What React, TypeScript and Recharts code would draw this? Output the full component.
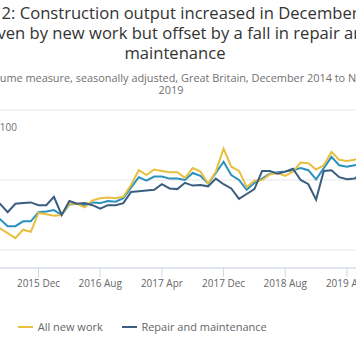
import React from 'react';
import { LineChart, Line, XAxis, YAxis, CartesianGrid } from 'recharts';

const months = [
  '2014 Dec',
  '2015 Jan', '2015 Feb', '2015 Mar', '2015 Apr', '2015 May', '2015 Jun', '2015 Jul', '2015 Aug', '2015 Sep', '2015 Oct', '2015 Nov', '2015 Dec',
  '2016 Jan', '2016 Feb', '2016 Mar', '2016 Apr', '2016 May', '2016 Jun', '2016 Jul', '2016 Aug', '2016 Sep', '2016 Oct', '2016 Nov', '2016 Dec',
  '2017 Jan', '2017 Feb', '2017 Mar', '2017 Apr', '2017 May', '2017 Jun', '2017 Jul', '2017 Aug', '2017 Sep', '2017 Oct', '2017 Nov', '2017 Dec',
  '2018 Jan', '2018 Feb', '2018 Mar', '2018 Apr', '2018 May', '2018 Jun', '2018 Jul', '2018 Aug', '2018 Sep', '2018 Oct', '2018 Nov', '2018 Dec',
  '2019 Jan', '2019 Feb', '2019 Mar', '2019 Apr', '2019 May', '2019 Jun', '2019 Jul', '2019 Aug', '2019 Sep', '2019 Oct', '2019 Nov', '2019 Dec',
];

const allWork = [
  103.6, 104.0, 104.3, 103.8, 104.6, 104.2, 104.8,
  104.4, 103.4, 103.4, 104.1, 104.1, 105.4, 105.5,
  105.7, 105.0, 106.5, 106.6, 106.4, 106.8, 106.7,
  107.0, 106.9, 107.4, 108.9, 110.4, 109.9, 110.5,
  110.5, 110.2, 110.2, 110.0, 111.0, 110.6, 109.5,
  111.0, 112.6, 110.7, 110.0, 108.6, 109.6, 110.2,
  110.9, 111.1, 111.2, 111.4, 111.7, 111.4, 110.1,
  111.7, 113.3, 112.1, 111.9, 112.1, 112.5, 111.8,
  112.2, 111.6, 112.0, 111.5, 112.1,
];

const allNewWork = [
  101.8, 102.5, 103.0, 102.2, 103.4, 102.8, 103.6,
  103.1, 102.4, 101.7, 102.9, 102.6, 105.3, 105.1,
  104.9, 105.0, 106.6, 106.6, 106.1, 107.1, 107.4,
  107.5, 107.4, 107.6, 109.3, 111.4, 110.7, 111.5,
  111.3, 111.1, 111.1, 110.3, 111.7, 111.2, 109.5,
  111.2, 114.5, 111.9, 111.3, 109.0, 109.9, 110.0,
  110.8, 111.0, 110.6, 111.2, 112.5, 112.4, 111.5,
  112.1, 114.0, 112.9, 112.7, 112.9, 113.5, 112.2,
  112.8, 111.9, 112.6, 111.8, 113.0,
];

const repairMaintenance = [
  105.8, 106.4, 105.9, 106.9, 106.2, 107.0, 106.5,
  106.6, 105.4, 106.6, 106.7, 106.8, 106.4, 106.4,
  107.6, 105.0, 107.0, 106.6, 106.7, 106.4, 105.9,
  106.4, 106.4, 106.7, 108.3, 108.4, 108.5, 108.6,
  109.4, 108.8, 108.7, 109.6, 109.2, 109.3, 109.1,
  110.2, 109.4, 108.8, 107.3, 108.0, 108.7, 111.3,
  111.3, 110.9, 111.2, 111.6, 110.0, 109.4, 107.2,
  111.3, 111.4, 110.4, 110.1, 110.2, 111.0, 110.5,
  110.8, 109.9, 110.6, 111.4, 110.3,
];

const xTicks = [4, 12, 20, 28, 36, 44, 52, 60];
const yTicks = [100, 110];

const seriesNames = ['All work', 'All new work', 'Repair and maintenance'];
const COLORS = ['#2a90bd', '#e8bf3f', '#3b5d7f'];
const legendLeft = [-66, 18, 121.7];

const data = months.map((label, i) => ({
  i,
  label,
  allWork: allWork[i],
  allNewWork: allNewWork[i],
  repair: repairMaintenance[i],
}));

const FONT = '"Open Sans", "Noto Sans", sans-serif';

export default function App() {
  return (
    <div
      style={{
        position: 'fixed',
        left: 0,
        top: 0,
        width: 356,
        height: 364,
        overflow: 'hidden',
        background: '#ffffff',
        fontFamily: FONT,
      }}
    >
      <div style={{ position: 'absolute', left: 175 - 400, top: 3, width: 800, textAlign: 'center', fontSize: 16.6, lineHeight: '20px', color: '#333333', whiteSpace: 'nowrap' }}>
        <div>Figure 2: Construction output increased in December 2019</div>
        <div>driven by new work but offset by a fall in repair and</div>
        <div>maintenance</div>
      </div>
      <div style={{ position: 'absolute', left: 171 - 400, top: 71.5, width: 800, textAlign: 'center', fontSize: 10.9, lineHeight: '12.5px', color: '#707070', whiteSpace: 'nowrap' }}>
        <div>Chained volume measure, seasonally adjusted, Great Britain, December 2014 to November</div>
        <div>2019</div>
      </div>
      <div style={{ position: 'absolute', right: 339, top: 120, fontSize: 10, lineHeight: '14px', color: '#707070', whiteSpace: 'nowrap' }}>
        Index 2016=100
      </div>
      <div style={{ position: 'absolute', left: -80, top: 0 }}>
        <LineChart
          width={500}
          height={364}
          data={data}
          margin={{ top: 110, right: 11.4, bottom: 66, left: 26 }}
        >
          <CartesianGrid vertical={false} stroke="#e6e6e6" strokeWidth={1} />
          <XAxis
            dataKey="i"
            type="number"
            domain={[0, 60]}
            ticks={xTicks}
            tickFormatter={(v: number) => months[v]}
            height={30}
            axisLine={{ stroke: '#ccd6eb' }}
            tickLine={{ stroke: '#ccd6eb' }}
            tickSize={9}
            tickMargin={3}
            tick={{ fontSize: 10, fill: '#666666', fontFamily: FONT }}
            interval={0}
          />
          <YAxis hide domain={[97.4286, 120]} ticks={yTicks} allowDataOverflow />
          <Line type="linear" dataKey="allWork" name={seriesNames[0]} stroke={COLORS[0]} strokeWidth={2} dot={false} isAnimationActive={false} />
          <Line type="linear" dataKey="allNewWork" name={seriesNames[1]} stroke={COLORS[1]} strokeWidth={2} dot={false} isAnimationActive={false} />
          <Line type="linear" dataKey="repair" name={seriesNames[2]} stroke={COLORS[2]} strokeWidth={2} dot={false} isAnimationActive={false} />
        </LineChart>
      </div>
      {seriesNames.map((n, k) => (
        <div
          key={n}
          style={{
            position: 'absolute',
            left: legendLeft[k],
            top: 319,
            display: 'flex',
            alignItems: 'center',
            fontSize: 11,
            lineHeight: '16px',
            color: '#666666',
            whiteSpace: 'nowrap',
          }}
        >
          <div style={{ width: 15, height: 2, background: COLORS[k], marginRight: 4.7 }} />
          <span>{n}</span>
        </div>
      ))}
    </div>
  );
}
